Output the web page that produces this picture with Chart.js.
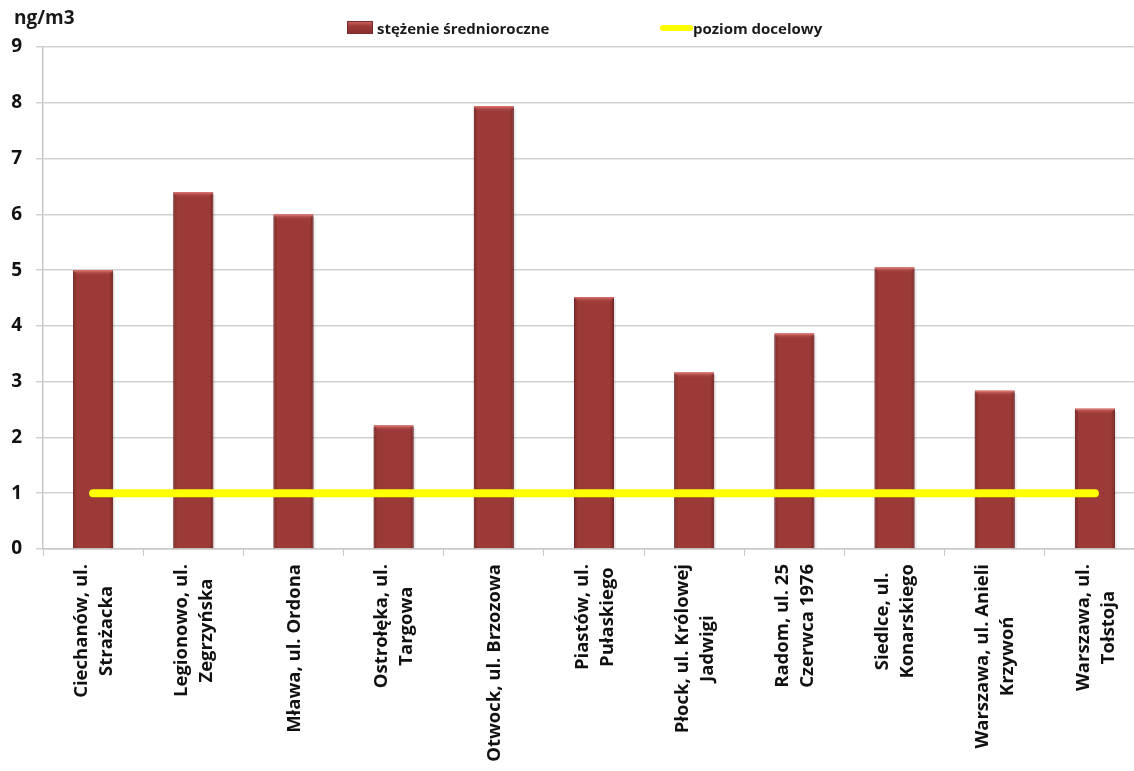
<!DOCTYPE html>
<html lang="pl">
<head>
<meta charset="utf-8">
<script src="https://cdn.jsdelivr.net/npm/chart.js@4/dist/chart.umd.min.js"></script>
<style>
  html, body { margin: 0; padding: 0; background: #ffffff; overflow: hidden; }
  #wrap { position: relative; width: 1134px; height: 771px; overflow: hidden; }
  canvas { position: absolute; left: 0; top: 0; }
  .txt { position: absolute; font-family: "Open Sans", Lato, sans-serif; font-weight: bold; color: #1a1a1a; white-space: nowrap; }
  #unit { left: 14px; top: 4px; font-size: 19px; }
  .leg { position: absolute; top: 17px; height: 22px; font-size: 15px; line-height: 22px; }
  .sw-bar { position: absolute; left: 0; top: 4px; width: 26px; height: 13px; background: linear-gradient(#c85d5a, #9a3a37 40%, #8a302e); border: 1px solid #7a2a28; box-sizing: border-box; }
  .sw-line { position: absolute; left: 0; top: 8px; width: 33px; height: 6px; border-radius: 3px; background: #ffff00; }
</style>
</head>
<body>
<div id="wrap">
  <canvas id="chart" width="1150" height="771"></canvas>
  <div id="unit" class="txt">ng/m3</div>
  <div class="txt leg" style="left:347px;"><span class="sw-bar"></span><span style="margin-left:30px;">stężenie średnioroczne</span></div>
  <div class="txt leg" style="left:660px;"><span class="sw-line"></span><span style="margin-left:33px;">poziom docelowy</span></div>
</div>
<script>
// Stations (two-line labels)
const stations = [
  ['Ciechanów, ul.', 'Strażacka'],
  ['Legionowo, ul.', 'Zegrzyńska'],
  ['Mława, ul. Ordona'],
  ['Ostrołęka, ul.', 'Targowa'],
  ['Otwock, ul. Brzozowa'],
  ['Piastów, ul.', 'Pułaskiego'],
  ['Płock, ul. Królowej', 'Jadwigi'],
  ['Radom, ul. 25', 'Czerwca 1976'],
  ['Siedlce, ul.', 'Konarskiego'],
  ['Warszawa, ul. Anieli', 'Krzywoń'],
  ['Warszawa, ul.', 'Tołstoja']
];
// Annual mean concentration, ng/m3
const annualMean = [5.0, 6.4, 6.0, 2.22, 7.94, 4.52, 3.17, 3.87, 5.05, 2.84, 2.52];
// Target level, ng/m3
const targetLevel = [1, 1, 1, 1, 1, 1, 1, 1, 1, 1, 1];
// Y axis range
const yTicks = [0, 1, 2, 3, 4, 5, 6, 7, 8, 9];

const FONT = '"Open Sans", Lato, sans-serif';

// Bevel/shade on each bar
const barBevel = {
  id: 'barBevel',
  afterDatasetDraw(chart, args) {
    const meta = args.meta;
    if (meta.type !== 'bar') return;
    const ctx = chart.ctx;
    ctx.save();
    meta.data.forEach(el => {
      const { x, y, width, base } = el.getProps(['x', 'y', 'width', 'base'], true);
      const l = x - width / 2, r = x + width / 2;
      const g = ctx.createLinearGradient(0, y, 0, y + 6);
      g.addColorStop(0, 'rgba(232,122,118,0.95)');
      g.addColorStop(1, 'rgba(155,58,55,0)');
      ctx.fillStyle = g;
      ctx.beginPath();
      ctx.moveTo(l, y); ctx.lineTo(r, y); ctx.lineTo(r - 4, y + 6); ctx.lineTo(l + 4, y + 6); ctx.closePath();
      ctx.fill();
      const gl = ctx.createLinearGradient(l, 0, l + 4, 0);
      gl.addColorStop(0, 'rgba(90,25,24,0.5)');
      gl.addColorStop(1, 'rgba(90,25,24,0)');
      ctx.fillStyle = gl;
      ctx.fillRect(l, y + 2, 4, base - y - 2);
      const gr = ctx.createLinearGradient(r - 4, 0, r, 0);
      gr.addColorStop(0, 'rgba(90,25,24,0)');
      gr.addColorStop(1, 'rgba(90,25,24,0.55)');
      ctx.fillStyle = gr;
      ctx.fillRect(r - 4, y + 2, 4, base - y - 2);
      ctx.fillStyle = 'rgba(0,0,0,0.08)';
      ctx.fillRect(r, y + 3, 2, base - y - 3);
    });
    ctx.restore();
  }
};

// Vertical category labels: lines centred on each other, block starting just below the axis
const stationLabels = {
  id: 'stationLabels',
  afterDraw(chart) {
    const xs = chart.scales.x;
    const ctx = chart.ctx;
    const size = 18.5, lineH = 25;
    ctx.save();
    ctx.font = `bold ${size}px ${FONT}`;
    ctx.fillStyle = '#111';
    ctx.textAlign = 'center';
    ctx.textBaseline = 'middle';
    stations.forEach((lines, i) => {
      const cx = xs.getPixelForTick(i) + 1;
      const maxW = Math.max(...lines.map(t => ctx.measureText(t).width));
      ctx.save();
      ctx.translate(cx, xs.top + 15 + maxW / 2);
      ctx.rotate(-Math.PI / 2);
      lines.forEach((t, j) => ctx.fillText(t, 0, (j - (lines.length - 1) / 2) * lineH));
      ctx.restore();
    });
    ctx.restore();
  }
};

new Chart(document.getElementById('chart'), {
  data: {
    labels: stations,
    datasets: [
      {
        type: 'line',
        label: 'poziom docelowy',
        data: targetLevel,
        borderColor: '#ffff00',
        backgroundColor: '#ffff00',
        borderWidth: 8,
        borderCapStyle: 'round',
        pointRadius: 0,
        order: 0
      },
      {
        type: 'bar',
        label: 'stężenie średnioroczne',
        data: annualMean,
        backgroundColor: '#9b3a37',
        borderColor: '#7e2d2b',
        borderWidth: 1,
        categoryPercentage: 0.8,
        barPercentage: 0.5,
        order: 1
      }
    ]
  },
  options: {
    responsive: false,
    animation: false,
    devicePixelRatio: 1,
    layout: { padding: { top: 47, right: 5, left: 0, bottom: 0 } },
    plugins: { legend: { display: false }, tooltip: { enabled: false } },
    scales: {
      x: {
        offset: true,
        grid: { offset: true, drawOnChartArea: false, drawTicks: true, tickLength: 7, color: '#c8c8c8', lineWidth: 1 },
        border: { display: true, color: '#c8c8c8', width: 1.5 },
        ticks: { display: false, autoSkip: false },
        afterFit(s) { s.height = 222; }
      },
      y: {
        min: yTicks[0], max: yTicks[yTicks.length - 1],
        afterBuildTicks(s) { s.ticks = yTicks.map(v => ({ value: v })); },
        grid: { color: '#d2d2d2', lineWidth: 1.5, tickLength: 7 },
        border: { display: true, color: '#c8c8c8', width: 1.5 },
        ticks: { padding: 14, color: '#111', font: { family: FONT, weight: 'bold', size: 19 } },
        afterFit(s) { s.width = 43; }
      }
    }
  },
  plugins: [barBevel, stationLabels]
});
</script>
</body>
</html>
